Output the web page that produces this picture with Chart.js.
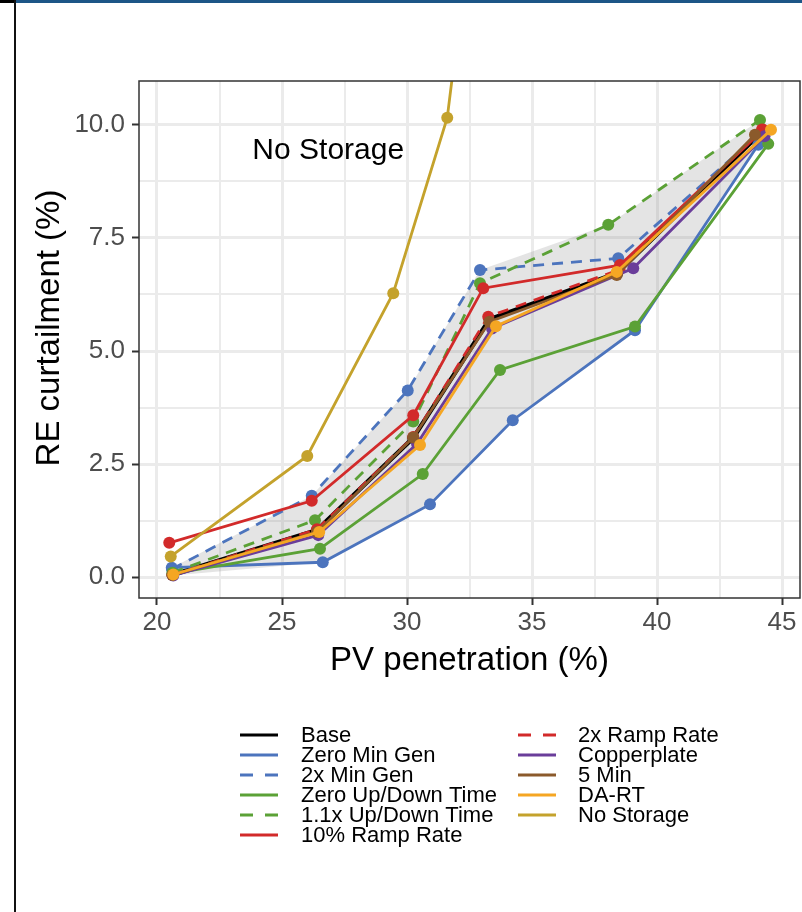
<!DOCTYPE html>
<html>
<head>
<meta charset="utf-8">
<script src="https://cdn.jsdelivr.net/npm/chart.js@4.4.1/dist/chart.umd.min.js"></script>
<style>
  html, body { margin: 0; padding: 0; background: #fff; }
  #wrap { position: relative; width: 802px; height: 912px; overflow: hidden; background: #fff; }
  #chart { position: absolute; left: 0; top: 0; }
  .corner { position: absolute; left: 0; top: 0; width: 16px; height: 3px; background: #000; }
  .top-rule { position: absolute; left: 16px; top: 0; width: 786px; height: 3px; background: #1d5687; }
  .side-rule { position: absolute; left: 14px; top: 0; width: 2px; height: 912px; background: #111; }
</style>
</head>
<body>
<div id="wrap">
  <canvas id="chart" width="802" height="912"></canvas>
  <div class="corner"></div>
  <div class="top-rule"></div>
  <div class="side-rule"></div>
</div>
<script>
// Scenario names (legend order)
const seriesNames = [
  "Base", "Zero Min Gen", "2x Min Gen", "Zero Up/Down Time", "1.1x Up/Down Time",
  "10% Ramp Rate", "2x Ramp Rate", "Copperplate", "5 Min", "DA-RT", "No Storage"
];

// PV penetration (%) and RE curtailment (%) per scenario
const baseX = [20.62, 26.40, 30.25, 33.30, 38.40, 44.20];
const baseY = [0.05, 1.04, 3.08, 5.70, 6.72, 9.85];
const zeroMinGenX = [20.59, 26.63, 30.92, 34.23, 39.12, 44.05];
const zeroMinGenY = [0.21, 0.33, 1.61, 3.47, 5.46, 9.56];
const twoxMinGenX = [20.60, 26.19, 30.03, 32.92, 38.45, 44.10];
const twoxMinGenY = [0.18, 1.80, 4.13, 6.79, 7.05, 9.80];
const zeroUpDownX = [20.62, 26.52, 30.63, 33.72, 39.12, 44.45];
const zeroUpDownY = [0.08, 0.63, 2.28, 4.58, 5.54, 9.58];
const upDown11X = [20.62, 26.32, 30.25, 32.92, 38.05, 44.12];
const upDown11Y = [0.10, 1.26, 3.44, 6.50, 7.79, 10.11];
const ramp10X = [20.49, 26.19, 30.25, 33.05, 38.52, 44.25];
const ramp10Y = [0.76, 1.69, 3.58, 6.39, 6.90, 9.89];
const ramp2xX = [20.62, 26.40, 30.25, 33.25, 38.50, 44.20];
const ramp2xY = [0.05, 1.06, 3.10, 5.76, 6.80, 9.90];
const copperX = [20.65, 26.45, 30.40, 33.40, 39.05, 44.30];
const copperY = [0.04, 0.93, 2.95, 5.50, 6.83, 9.75];
const min5X = [20.62, 26.40, 30.25, 33.30, 38.39, 43.92];
const min5Y = [0.05, 1.00, 3.09, 5.65, 6.68, 9.78];
const dartX = [20.65, 26.49, 30.52, 33.56, 38.39, 44.56];
const dartY = [0.06, 1.00, 2.92, 5.55, 6.75, 9.89];
const noStorageX = [20.55, 26.01, 29.45, 31.61, 33.60];
const noStorageY = [0.46, 2.68, 6.28, 10.16, 19.00];

const seriesX = [baseX, zeroMinGenX, twoxMinGenX, zeroUpDownX, upDown11X, ramp10X, ramp2xX, copperX, min5X, dartX, noStorageX];
const seriesY = [baseY, zeroMinGenY, twoxMinGenY, zeroUpDownY, upDown11Y, ramp10Y, ramp2xY, copperY, min5Y, dartY, noStorageY];

const seriesColors = [
  "#000000", "#4c74bd", "#4c74bd", "#5ba136", "#5ba136",
  "#d22a2a", "#d22a2a", "#6a3d9a", "#8b5a2b", "#f5a623", "#c4a22c"
];
const dashedSeries = ["2x Min Gen", "1.1x Up/Down Time", "2x Ramp Rate"];
// scenarios that make up the grey band
const ribbonSeries = ["Base", "Zero Min Gen", "2x Min Gen", "Zero Up/Down Time", "1.1x Up/Down Time",
  "2x Ramp Rate", "Copperplate", "5 Min", "DA-RT"];

const xTicks = [20, 22.5, 25, 27.5, 30, 32.5, 35, 37.5, 40, 42.5, 45];
const yTicks = [0, 1.25, 2.5, 3.75, 5, 6.25, 7.5, 8.75, 10];

const annotationText = "No Storage";
const annotationAt = [26.85, 9.42];
const yTitle = "RE curtailment (%)";

const FONT = '"Liberation Sans", Arial, Helvetica, sans-serif';
const PANEL_RIGHT = 800;

// Build the band: max of the scenarios at each step, then back along the min
function buildRibbon() {
  const upper = [];
  const lower = [];
  for (let i = 0; i < baseX.length; i++) {
    let hi = null, lo = null;
    ribbonSeries.forEach((name) => {
      const k = seriesNames.indexOf(name);
      const p = { x: seriesX[k][i], y: seriesY[k][i] };
      if (!hi || p.y > hi.y) hi = p;
      if (!lo || p.y < lo.y) lo = p;
    });
    upper.push(hi);
    lower.push(lo);
  }
  return upper.concat(lower.reverse());
}

const datasets = seriesNames.map((name, i) => {
  const dashed = dashedSeries.includes(name);
  return {
    label: name,
    data: seriesX[i].map((x, j) => ({ x: x, y: seriesY[i][j] })),
    borderColor: seriesColors[i],
    backgroundColor: seriesColors[i],
    borderWidth: name === "Base" ? 4.5 : 2.8,
    borderDash: dashed ? [11, 8] : [],
    pointRadius: 6,
    pointBorderWidth: 0,
    pointBackgroundColor: seriesColors[i],
    fill: false,
    tension: 0,
    clip: 0,
    order: seriesNames.length - i,
  };
});

datasets.push({
  label: "",
  data: buildRibbon(),
  borderColor: "rgba(0,0,0,0)",
  borderWidth: 0,
  backgroundColor: "rgba(120,120,120,0.2)",
  pointRadius: 0,
  fill: "shape",
  tension: 0,
  order: 100,
});

// panel border, y title, text annotation and the two-column legend
const decorPlugin = {
  id: "decor",
  afterLayout(chart) {
    // the layout keeps a few px on the right; stretch the panel to the page edge
    const a = chart.chartArea;
    const x = chart.scales.x;
    a.right = PANEL_RIGHT;
    a.width = a.right - a.left;
    x.right = PANEL_RIGHT;
    x.width = x.right - x.left;
    x.configure();
  },
  afterDatasetsDraw(chart) {
    const { ctx, chartArea: a, scales } = chart;
    ctx.save();
    ctx.strokeStyle = "#333333";
    ctx.lineWidth = 1.5;
    ctx.strokeRect(a.left, a.top, a.right - a.left, a.bottom - a.top);
    ctx.font = "30px " + FONT;
    ctx.fillStyle = "#000";
    ctx.textAlign = "center";
    ctx.textBaseline = "middle";
    ctx.fillText(annotationText, scales.x.getPixelForValue(annotationAt[0]), scales.y.getPixelForValue(annotationAt[1]));
    // y axis title, sits a little above the panel centre like the original
    ctx.translate(50, 328);
    ctx.rotate(-Math.PI / 2);
    ctx.font = "33px " + FONT;
    ctx.fillText(yTitle, 0, 0);
    ctx.restore();
  },
  afterDraw(chart) {
    const ctx = chart.ctx;
    const keyX = [240, 518];
    const textX = [301, 578];
    ctx.save();
    ctx.font = "22px " + FONT;
    ctx.textBaseline = "middle";
    ctx.textAlign = "left";
    seriesNames.forEach((name, i) => {
      const col = i < 6 ? 0 : 1;
      const row = i < 6 ? i : i - 6;
      const y = 735 + row * 20;
      ctx.strokeStyle = seriesColors[i];
      ctx.lineWidth = 3;
      ctx.setLineDash(dashedSeries.includes(name) ? [13, 12] : []);
      ctx.beginPath();
      ctx.moveTo(keyX[col], y);
      ctx.lineTo(keyX[col] + 38, y);
      ctx.stroke();
      ctx.setLineDash([]);
      ctx.fillStyle = "#000";
      ctx.fillText(name, textX[col], y + 1);
    });
    ctx.restore();
  },
};

const isMajor = (v, step) => Math.abs(v / step - Math.round(v / step)) < 1e-6;

new Chart(document.getElementById("chart").getContext("2d"), {
  type: "line",
  data: { datasets: datasets },
  plugins: [decorPlugin],
  options: {
    responsive: false,
    animation: false,
    layout: { padding: { top: 81, right: 2, bottom: 222, left: 0 } },
    plugins: {
      legend: { display: false },
      tooltip: { enabled: false },
    },
    scales: {
      x: {
        type: "linear",
        min: 19.28,
        max: 45.72,
        afterBuildTicks: (s) => { s.ticks = xTicks.map((v) => ({ value: v })); },
        afterFit: (s) => { s.height = 92; s.paddingLeft = 0; s.paddingRight = 0; },
        border: { display: false },
        grid: {
          color: "#ebebeb",
          lineWidth: (c) => (isMajor(c.tick.value, 5) ? 3 : 2),
          tickColor: (c) => (isMajor(c.tick.value, 5) ? "#333333" : "rgba(0,0,0,0)"),
          tickWidth: 2,
          tickLength: 7,
        },
        ticks: {
          color: "#4d4d4d",
          font: { family: FONT, size: 26 },
          padding: 2,
          maxRotation: 0,
          autoSkip: false,
          callback: (v) => (isMajor(v, 5) ? String(v) : ""),
        },
        title: {
          display: true,
          text: "PV penetration (%)",
          color: "#000",
          font: { family: FONT, size: 33 },
          padding: { top: 0, bottom: 9 },
        },
      },
      y: {
        min: -0.46,
        max: 10.97,
        afterBuildTicks: (s) => { s.ticks = yTicks.map((v) => ({ value: v })); },
        afterFit: (s) => { s.width = 139; s.paddingTop = 0; s.paddingBottom = 0; },
        border: { display: false },
        grid: {
          color: "#ebebeb",
          lineWidth: (c) => (isMajor(c.tick.value, 2.5) ? 3 : 2),
          tickColor: (c) => (isMajor(c.tick.value, 2.5) ? "#333333" : "rgba(0,0,0,0)"),
          tickWidth: 2,
          tickLength: 7,
        },
        ticks: {
          color: "#4d4d4d",
          font: { family: FONT, size: 26 },
          padding: 7,
          autoSkip: false,
          callback: (v) => (isMajor(v, 2.5) ? v.toFixed(1) : ""),
        },
      },
    },
  },
});
</script>
</body>
</html>
